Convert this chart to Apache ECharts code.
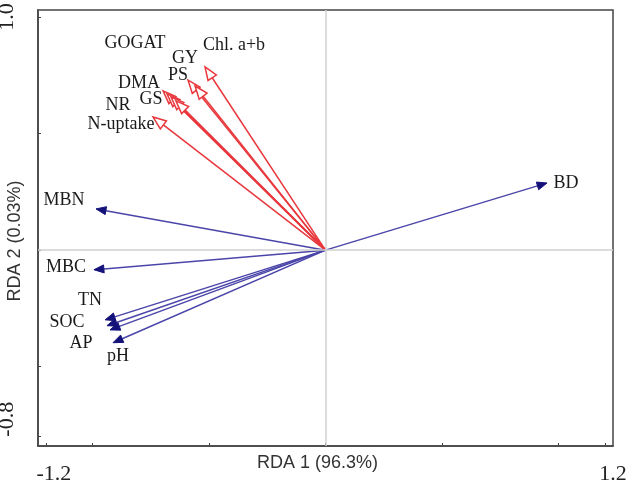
<!DOCTYPE html>
<html>
<head>
<meta charset="utf-8">
<script src="https://cdn.jsdelivr.net/npm/echarts@6/dist/echarts.min.js"></script>
<style>
  html, body { margin: 0; padding: 0; background: #fff; }
  #chart { width: 628px; height: 482px; }
</style>
</head>
<body>
<div id="chart"></div>
<script>
// response variables (red, hollow heads)
var redNames = ['Chl. a+b', 'GY', 'PS', 'GOGAT', 'DMA', 'GS', 'NR', 'N-uptake'];
var redRDA1 = [-0.517, -0.590, -0.560, -0.697, -0.680, -0.663, -0.642, -0.740];
var redRDA2 = [0.786, 0.729, 0.704, 0.683, 0.670, 0.657, 0.640, 0.571];

// soil variables (blue, filled heads)
var blueNames = ['BD', 'MBN', 'MBC', 'TN', 'SOC', 'AP', 'pH'];
var blueRDA1 = [0.951, -0.985, -0.994, -0.946, -0.938, -0.925, -0.912];
var blueRDA2 = [0.288, 0.177, -0.084, -0.299, -0.324, -0.342, -0.397];

var xTicks = [-1.2, -1, -0.5, 0, 0.5, 1, 1.2];
var xTickLabels = [-1.2, 1.2];
var yTicks = [-0.8, -0.5, 0, 0.5, 1.0];
var yTickLabels = [-0.8, 1.0];

// label offsets from arrow tip, in pixels
var redLabelOffsets = [[29, -22], [-3, -22], [-17, -11], [-28, -48], [-28, -11], [-20, 2], [-58, 4], [-32, 7]];
var blueLabelOffsets = [[19, 0], [-32, -9], [-28, -2], [-15, -20], [-40, -3], [-29, 13], [5, 14]];

var serif = '"Liberation Serif", "Times New Roman", serif';
var sans = '"Liberation Sans", Arial, sans-serif';

function arrowRenderer(names, offsets, lineColor, headFill, hollow) {
  return function (params, api) {
    var o = api.coord([0, 0]);
    var p = api.coord([api.value(0), api.value(1)]);
    var dx = p[0] - o[0], dy = p[1] - o[1];
    var len = Math.sqrt(dx * dx + dy * dy);
    var ux = dx / len, uy = dy / len;
    var hl = hollow ? 13 : 10;
    var hw = hollow ? 5 : 4;
    var bx = p[0] - ux * hl, by = p[1] - uy * hl;
    var off = offsets[params.dataIndex];
    return {
      type: 'group',
      children: [
        {
          type: 'line',
          shape: { x1: o[0], y1: o[1], x2: bx, y2: by },
          style: { stroke: lineColor, lineWidth: 1.5 }
        },
        {
          type: 'polygon',
          shape: { points: [[p[0], p[1]], [bx - uy * hw, by + ux * hw], [bx + uy * hw, by - ux * hw]] },
          style: { fill: headFill, stroke: hollow ? lineColor : headFill, lineWidth: hollow ? 1.5 : 1 }
        },
        {
          type: 'text',
          x: p[0] + off[0],
          y: p[1] + off[1],
          style: {
            text: names[params.dataIndex],
            fill: '#1a1a1a',
            fontSize: 18,
            fontFamily: serif,
            align: 'center',
            verticalAlign: 'middle'
          }
        }
      ]
    };
  };
}

var redData = redRDA1.map(function (v, i) { return [v, redRDA2[i]]; });
var blueData = blueRDA1.map(function (v, i) { return [v, blueRDA2[i]]; });

var chart = echarts.init(document.getElementById('chart'));
chart.setOption({
  animation: false,
  grid: {
    left: 38, right: 15, top: 10, bottom: 36,
    containLabel: false,
    outerBoundsMode: 'none',
    show: true, borderColor: '#444', borderWidth: 1.5, backgroundColor: '#fff'
  },
  xAxis: {
    type: 'value',
    min: -1.234, max: 1.234,
    name: 'RDA 1 (96.3%)',
    nameLocation: 'middle',
    nameGap: 8,
    nameMoveOverlap: false,
    nameTextStyle: { fontFamily: sans, fontSize: 18, color: '#333', verticalAlign: 'top', padding: [0, 16, 0, 0] },
    axisLine: { show: true, onZero: false, lineStyle: { color: '#444', width: 1.5 } },
    axisTick: { show: true, inside: true, length: 3, customValues: xTicks, lineStyle: { color: '#444' } },
    axisLabel: {
      customValues: xTickLabels,
      formatter: function (v) { return v.toFixed(1); },
      fontFamily: serif, fontSize: 22, color: '#222', margin: 17,
      padding: [0, 0, 0, 16]
    },
    splitLine: { show: false }
  },
  yAxis: {
    type: 'value',
    min: -0.84, max: 1.03,
    name: 'RDA 2 (0.03%)',
    nameLocation: 'middle',
    nameGap: 14,
    nameMoveOverlap: false,
    nameTextStyle: { fontFamily: sans, fontSize: 18, color: '#333', padding: [0, 26, 0, 0] },
    axisLine: { show: true, onZero: false, lineStyle: { color: '#444', width: 1.5 } },
    axisTick: { show: true, inside: true, length: 3, customValues: yTicks, lineStyle: { color: '#444' } },
    axisLabel: {
      customValues: yTickLabels,
      formatter: function (v) { return v.toFixed(1); },
      rotate: 90,
      alignMinLabel: 'left',
      fontFamily: serif, fontSize: 22, color: '#222', margin: 20
    },
    splitLine: { show: false }
  },
  series: [
    {
      type: 'line',
      data: [],
      silent: true,
      markLine: {
        silent: true,
        symbol: 'none',
        label: { show: false },
        lineStyle: { color: '#d0d0d0', width: 1.5, type: 'solid' },
        data: [{ xAxis: 0 }, { yAxis: 0 }]
      }
    },
    {
      type: 'custom',
      name: 'soil',
      data: blueData,
      renderItem: arrowRenderer(blueNames, blueLabelOffsets, '#4a45a8', '#14127a', false),
      z: 3
    },
    {
      type: 'custom',
      name: 'plant',
      data: redData,
      renderItem: arrowRenderer(redNames, redLabelOffsets, '#e8383d', '#ffffff', true),
      z: 4
    }
  ]
});
</script>
</body>
</html>
